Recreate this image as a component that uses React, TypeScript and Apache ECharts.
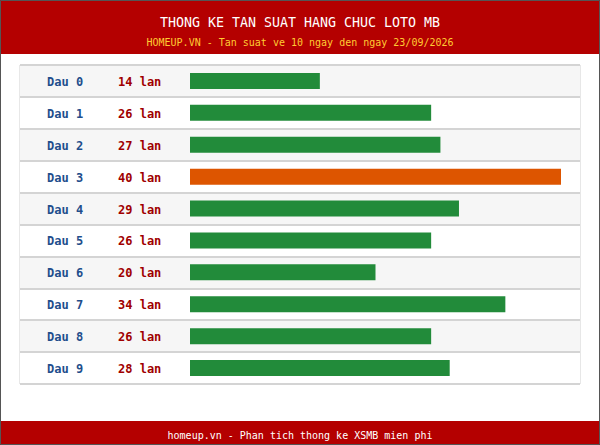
import React, { useEffect, useRef } from "react";
import * as echarts from "echarts";

const categories = ["Dau 0", "Dau 1", "Dau 2", "Dau 3", "Dau 4", "Dau 5", "Dau 6", "Dau 7", "Dau 8", "Dau 9"];
const counts = [14, 26, 27, 40, 29, 26, 20, 34, 26, 28];
const titleText = "THONG KE TAN SUAT HANG CHUC LOTO MB";
const subtitleText = "HOMEUP.VN - Tan suat ve 10 ngay den ngay 23/09/2026";
const footerText = "homeup.vn - Phan tich thong ke XSMB mien phi";

const FONT = "'DejaVu Sans Mono', 'Liberation Mono', monospace";

export default function App() {
  const ref = useRef<HTMLDivElement>(null);
  useEffect(() => {
    document.body.style.margin = "0";
    const chart = echarts.init(ref.current!, undefined, { renderer: "svg" });
    const maxVal = Math.max(...counts);
    chart.setOption({
      animation: false,
      backgroundColor: "#ffffff",
      title: [
        {
          text: titleText,
          left: "center",
          top: 11,
          textStyle: { color: "#ffffff", fontFamily: FONT, fontSize: 13.3, fontWeight: "normal" },
        },
        {
          text: subtitleText,
          left: "center",
          top: 32,
          textStyle: { color: "#ffcc33", fontFamily: FONT, fontSize: 10, fontWeight: "normal" },
        },
        {
          text: footerText,
          left: "center",
          top: 425,
          textStyle: { color: "#ffffff", fontFamily: FONT, fontSize: 10, fontWeight: "normal" },
        },
      ],
      graphic: [
        { type: "rect", z: -10, shape: { x: 0, y: 0, width: 600, height: 54 }, style: { fill: "#b40000" } },
        { type: "rect", z: -10, shape: { x: 0, y: 421, width: 600, height: 24 }, style: { fill: "#b40000" } },
        {
          type: "rect",
          z: 100,
          shape: { x: 0.5, y: 0.5, width: 599, height: 444 },
          style: { fill: "none", stroke: "#555555", lineWidth: 1 },
        },
      ],
      grid: [
        { left: 20, right: 20, top: 65, bottom: 61, show: true, borderColor: "#d0d0d0", borderWidth: 1 },
        { left: 190, width: 371, top: 65, bottom: 61 },
      ],
      xAxis: [
        { type: "value", gridIndex: 0, show: false, min: 0, max: 1 },
        { type: "value", gridIndex: 1, show: false, min: 0, max: maxVal },
      ],
      yAxis: [
        {
          type: "category",
          gridIndex: 0,
          data: categories,
          inverse: true,
          axisLine: { show: false },
          axisTick: { show: false },
          splitArea: { show: true, areaStyle: { color: ["#f6f6f6", "#ffffff"] } },
          splitLine: { show: true, lineStyle: { color: "#d4d4d4", width: 2 } },
          axisLabel: {
            inside: true,
            margin: 27,
            formatter: (v: string, i: number) => `{a|${v}}{b|${counts[i]} lan}`,
            rich: {
              a: { color: "#1f4e8c", fontFamily: FONT, fontSize: 12, fontWeight: "bold", width: 71, padding: [2, 0, 0, 0] },
              b: { color: "#a00000", fontFamily: FONT, fontSize: 12, fontWeight: "bold", padding: [2, 0, 0, 0] },
            },
          },
        },
        {
          type: "category",
          gridIndex: 1,
          data: categories,
          inverse: true,
          show: false,
        },
      ],
      series: [
        {
          type: "bar",
          xAxisIndex: 1,
          yAxisIndex: 1,
          barWidth: 16,
          data: counts.map((v) => ({
            value: v,
            itemStyle: { color: v === maxVal ? "#dd5500" : "#228b3a" },
          })),
        },
      ],
    });
    return () => chart.dispose();
  }, []);
  return <div ref={ref} style={{ width: 600, height: 445 }} />;
}
